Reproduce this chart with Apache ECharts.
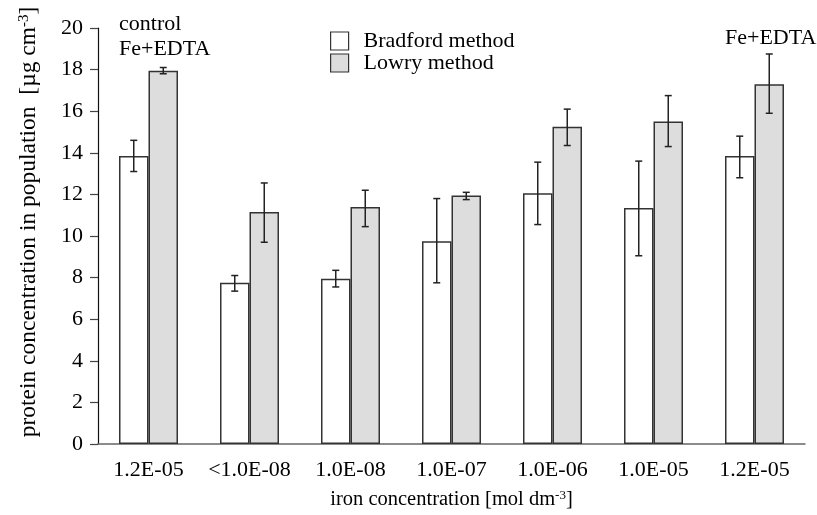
<!DOCTYPE html>
<html>
<head>
<meta charset="utf-8">
<script src="https://cdn.jsdelivr.net/npm/echarts@6/dist/echarts.min.js"></script>
<style>
html,body{margin:0;padding:0;background:#fff;}
#chart{width:817px;height:515px;}
</style>
</head>
<body>
<div id="chart"></div>
<script>
// ---- data ----
const categories = ['1.2E-05', '<1.0E-08', '1.0E-08', '1.0E-07', '1.0E-06', '1.0E-05', '1.2E-05'];
const bradford     = [13.85, 7.75, 7.95, 9.75, 12.05, 11.35, 13.85];
const bradfordLow  = [13.1, 7.35, 7.55, 7.75, 10.55, 9.05, 12.8];
const bradfordHigh = [14.6, 8.1, 8.35, 11.8, 13.55, 13.6, 14.8];
const lowry        = [17.95, 11.15, 11.4, 11.95, 15.25, 15.5, 17.3];
const lowryLow     = [17.8, 9.7, 10.45, 11.75, 14.35, 14.3, 15.9];
const lowryHigh    = [18.1, 12.55, 12.2, 12.1, 16.1, 16.75, 18.75];
const yTicks = { min: 0, max: 20, interval: 2 };

const FONT = 'Liberation Serif';
const BAR_W = 29.5;
const CAP = 3.5;

function errData(lo, hi) {
  return lo.map((v, i) => [i, v, hi[i]]);
}
function errRender(offset) {
  return function (params, api) {
    const i = api.value(0);
    const p1 = api.coord([i, api.value(1)]);
    const p2 = api.coord([i, api.value(2)]);
    const x = p1[0] + offset;
    const st = { stroke: '#222', lineWidth: 1.5 };
    return {
      type: 'group',
      children: [
        { type: 'line', shape: { x1: x, y1: p1[1], x2: x, y2: p2[1] }, style: st },
        { type: 'line', shape: { x1: x - CAP, y1: p1[1], x2: x + CAP, y2: p1[1] }, style: st },
        { type: 'line', shape: { x1: x - CAP, y1: p2[1], x2: x + CAP, y2: p2[1] }, style: st }
      ]
    };
  };
}

const chart = echarts.init(document.getElementById('chart'));
const option = {
  animation: false,
  backgroundColor: '#fff',
  textStyle: { fontFamily: FONT },
  grid: { left: 98, right: 12, top: 28, bottom: 71 },
  legend: {
    orient: 'vertical',
    left: 330, top: 30,
    padding: 0,
    itemWidth: 18, itemHeight: 18, itemGap: 0,
    textStyle: { fontFamily: FONT, fontSize: 22, color: '#000', lineHeight: 21, padding: [0, 0, 0, 10] },
    data: [
      { name: 'Bradford method', icon: 'rect', itemStyle: { color: '#fff', borderColor: '#333', borderWidth: 1.2 } },
      { name: 'Lowry method', icon: 'rect', itemStyle: { color: '#dddddd', borderColor: '#333', borderWidth: 1.2 } }
    ]
  },
  xAxis: {
    type: 'category',
    data: categories,
    axisLine: { lineStyle: { color: '#666', width: 1.5 } },
    axisTick: { length: 7, lineStyle: { color: '#444', width: 1.2 } },
    axisLabel: { interval: 0, fontFamily: FONT, fontSize: 22, color: '#000', margin: 15 },
    name: '{a|iron concentration [mol dm}{s|-3}{a|]}',
    nameLocation: 'middle',
    nameGap: 45,
    nameTextStyle: {
      rich: {
        a: { fontFamily: FONT, fontSize: 20.5, color: '#000', lineHeight: 21, verticalAlign: 'bottom' },
        s: { fontFamily: FONT, fontSize: 13, color: '#000', lineHeight: 13, verticalAlign: 'top' }
      }
    }
  },
  yAxis: {
    type: 'value',
    min: yTicks.min, max: yTicks.max, interval: yTicks.interval,
    splitLine: { show: false },
    axisLine: { show: true, lineStyle: { color: '#111', width: 1.2 } },
    axisTick: { show: true, length: 8, lineStyle: { color: '#444', width: 1.2 } },
    axisLabel: { fontFamily: FONT, fontSize: 22, color: '#000', margin: 15 },
    name: '{a|protein concentration in population  [µg cm}{s|-3}{a|]}',
    nameLocation: 'middle',
    nameGap: 57,
    nameTextStyle: {
      padding: [0, 0, 0, 28],
      rich: {
        a: { fontFamily: FONT, fontSize: 23.5, color: '#000', lineHeight: 24, verticalAlign: 'bottom' },
        s: { fontFamily: FONT, fontSize: 15, color: '#000', lineHeight: 15, verticalAlign: 'top' }
      }
    }
  },
  series: [
    {
      name: 'Bradford method', type: 'bar', data: bradford,
      barWidth: BAR_W, barGap: '0%',
      itemStyle: { color: '#fff', borderColor: '#333', borderWidth: 1.5 }
    },
    {
      name: 'Lowry method', type: 'bar', data: lowry,
      barWidth: BAR_W, barGap: '0%',
      itemStyle: { color: '#dddddd', borderColor: '#333', borderWidth: 1.5 }
    },
    { type: 'custom', renderItem: errRender(-BAR_W / 2), data: errData(bradfordLow, bradfordHigh), z: 10, silent: true },
    { type: 'custom', renderItem: errRender(BAR_W / 2), data: errData(lowryLow, lowryHigh), z: 10, silent: true }
  ]
};
chart.setOption(option);

// annotations anchored to the first and last categories
const firstX = chart.convertToPixel({ xAxisIndex: 0 }, 0);
const lastX = chart.convertToPixel({ xAxisIndex: 0 }, categories.length - 1);
const plotTop = chart.convertToPixel({ yAxisIndex: 0 }, yTicks.max);
chart.setOption({
  graphic: [
    { type: 'text', left: firstX - BAR_W, top: plotTop - 17,
      style: { text: 'control\nFe+EDTA', font: '22px "Liberation Serif"', fill: '#000', lineHeight: 25.7 } },
    { type: 'text', left: lastX - BAR_W, top: plotTop - 1,
      style: { text: 'Fe+EDTA', font: '22px "Liberation Serif"', fill: '#000' } }
  ]
});
</script>
</body>
</html>
